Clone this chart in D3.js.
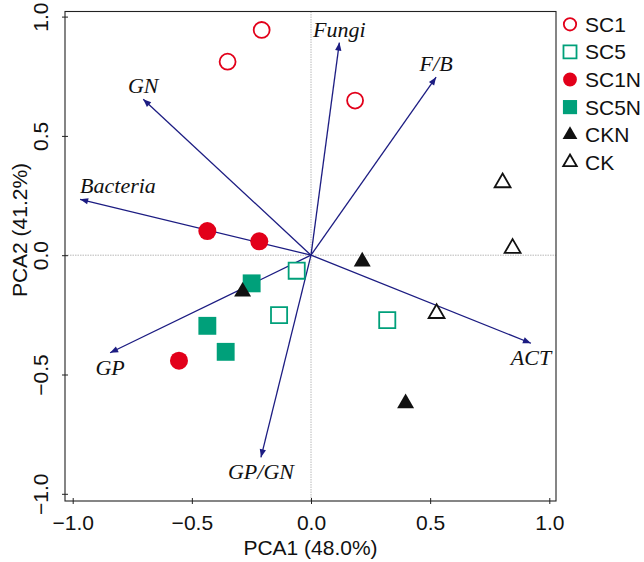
<!DOCTYPE html>
<html>
<head>
<meta charset="utf-8">
<script src="https://cdn.jsdelivr.net/npm/d3@7"></script>
<style>
  body { margin: 0; background: #fff; }
  svg { display: block; }
</style>
</head>
<body>
<div id="chart"></div>
<script>
// sample groups (legend order)
var groups = ['SC1', 'SC5', 'SC1N', 'SC5N', 'CKN', 'CK']

// sample scores
var sc1 = [[-0.207, 0.944], [-0.350, 0.811], [0.185, 0.648]]
var sc5 = [[-0.060, -0.065], [-0.134, -0.251], [0.320, -0.272]]
var sc1n = [[-0.435, 0.101], [-0.217, 0.058], [-0.554, -0.442]]
var sc5n = [[-0.249, -0.118], [-0.435, -0.296], [-0.358, -0.405]]
var ckn = [[0.215, -0.027], [-0.287, -0.153], [0.397, -0.621]]
var ck = [[0.804, 0.304], [0.846, 0.029], [0.527, -0.244]]

// variable loadings (arrows)
var varNames = ['Fungi', 'F/B', 'GN', 'Bacteria', 'GP', 'GP/GN', 'ACT']
var varX = [0.119, 0.525, -0.704, -0.969, -0.843, -0.210, 0.923]
var varY = [0.891, 0.746, 0.654, 0.234, -0.409, -0.847, -0.369]

var ticks = [-1.0, -0.5, 0.0, 0.5, 1.0]

var sans = "'Liberation Sans', Arial, sans-serif"
var serif = "'Liberation Serif', 'Times New Roman', serif"
var red = '#e2001a', green = '#00a07a', dark = '#111', navy = '#1c1c82'
var style = {
  SC1: {shape: d3.symbolCircle, fill: '#fff', stroke: red, size: 200, lsize: 120},
  SC5: {shape: d3.symbolSquare, fill: '#fff', stroke: green, size: 260, lsize: 170},
  SC1N: {shape: d3.symbolCircle, fill: red, stroke: 'none', size: 255, lsize: 150},
  SC5N: {shape: d3.symbolSquare, fill: green, stroke: 'none', size: 320, lsize: 200},
  CKN: {shape: d3.symbolTriangle, fill: dark, stroke: 'none', size: 125, lsize: 95},
  CK: {shape: d3.symbolTriangle, fill: '#fff', stroke: dark, size: 110, lsize: 80},
}
var series = {SC1: sc1, SC5: sc5, SC1N: sc1n, SC5N: sc5n, CKN: ckn, CK: ck}

var W = 644, H = 562
var box = {left: 65, right: 556, top: 11.5, bottom: 501}

var svg = d3.select('#chart').append('svg').attr('width', W).attr('height', H)

var x = d3.scaleLinear().domain([-1.0, 1.0]).range([72.7, 549.3])
var y = d3.scaleLinear().domain([-1.0, 1.0]).range([493.8, 16.6])

// zero reference lines
svg.append('line')
  .attr('x1', x(0)).attr('x2', x(0)).attr('y1', box.top).attr('y2', box.bottom)
  .attr('stroke', '#b8b8b8').attr('stroke-width', 1).attr('stroke-dasharray', '1.5,1')
svg.append('line')
  .attr('x1', box.left).attr('x2', box.right).attr('y1', y(0)).attr('y2', y(0))
  .attr('stroke', '#b8b8b8').attr('stroke-width', 1).attr('stroke-dasharray', '1.5,1')

// frame
svg.append('rect')
  .attr('x', box.left).attr('y', box.top)
  .attr('width', box.right - box.left).attr('height', box.bottom - box.top)
  .attr('fill', 'none').attr('stroke', '#222').attr('stroke-width', 1.1)

// axes
var xAxis = svg.append('g')
  .attr('transform', `translate(0,${box.bottom})`)
  .call(d3.axisBottom(x).tickValues(ticks).tickFormat(d3.format('.1f')).tickSize(4).tickPadding(10))
var yAxis = svg.append('g')
  .attr('transform', `translate(${box.left},0)`)
  .call(d3.axisLeft(y).tickValues(ticks).tickFormat(d3.format('.1f')).tickSize(4))
;[xAxis, yAxis].forEach(g => {
  g.attr('font-family', sans)
  g.select('.domain').remove()
  g.selectAll('line').attr('stroke', '#222')
  g.selectAll('text').attr('font-size', 21).attr('fill', '#111')
})
xAxis.selectAll('line').attr('y1', -3).attr('y2', 3)
yAxis.selectAll('line').attr('x1', -3).attr('x2', 3)
yAxis.selectAll('text')
  .attr('transform', 'rotate(-90)')
  .attr('x', 0).attr('y', -17).attr('dy', 0)
  .attr('text-anchor', 'middle')

svg.append('text')
  .attr('x', (box.left + box.right) / 2).attr('y', 555)
  .attr('text-anchor', 'middle').attr('font-size', 21).attr('fill', '#111')
  .attr('font-family', sans)
  .text('PCA1 (48.0%)')
svg.append('text')
  .attr('transform', `translate(27,230) rotate(-90)`)
  .attr('text-anchor', 'middle').attr('font-size', 21).attr('fill', '#111')
  .attr('font-family', sans)
  .text('PCA2 (41.2%)')

// arrows
svg.append('defs').append('marker')
  .attr('id', 'arrow').attr('viewBox', '0 -5 10 10')
  .attr('refX', 10).attr('refY', 0)
  .attr('markerUnits', 'userSpaceOnUse')
  .attr('markerWidth', 10).attr('markerHeight', 8).attr('orient', 'auto')
  .append('path').attr('d', 'M0,-4L10,0L0,4Z').attr('fill', navy)

var loadings = varNames.map((name, i) => ({name, x: varX[i], y: varY[i]}))

svg.selectAll('line.arrow').data(loadings).join('line')
  .attr('class', 'arrow')
  .attr('x1', x(0)).attr('y1', y(0))
  .attr('x2', d => x(d.x)).attr('y2', d => y(d.y))
  .attr('stroke', navy).attr('stroke-width', 1.3)
  .attr('marker-end', 'url(#arrow)')

svg.selectAll('text.varlab').data(loadings).join('text')
  .attr('class', 'varlab')
  .attr('x', d => x(d.x))
  .attr('y', d => y(d.y) + (d.y > 0 ? -6 : 22))
  .attr('text-anchor', d => d.x < -0.9 ? 'start' : 'middle')
  .attr('font-family', serif)
  .attr('font-style', 'italic').attr('font-size', 22).attr('fill', '#111')
  .text(d => d.name)

// sample points
groups.forEach(g => {
  var s = style[g]
  svg.selectAll('path.pt-' + g).data(series[g]).join('path')
    .attr('class', 'pt-' + g)
    .attr('transform', d => `translate(${x(d[0])},${y(d[1])})`)
    .attr('d', d3.symbol().type(s.shape).size(s.size))
    .attr('fill', s.fill).attr('stroke', s.stroke).attr('stroke-width', 1.8)
})

// legend
var legItems = svg.append('g').selectAll('g').data(groups).join('g')
  .attr('transform', (d, i) => `translate(570,${24.3 + i * 27.6})`)
legItems.append('path')
  .attr('d', d => d3.symbol().type(style[d].shape).size(style[d].lsize)())
  .attr('fill', d => style[d].fill).attr('stroke', d => style[d].stroke).attr('stroke-width', 1.8)
legItems.append('text')
  .attr('x', 15).attr('y', 7.5)
  .attr('font-family', sans).attr('font-size', 21).attr('fill', '#111')
  .text(d => d)
</script>
</body>
</html>
